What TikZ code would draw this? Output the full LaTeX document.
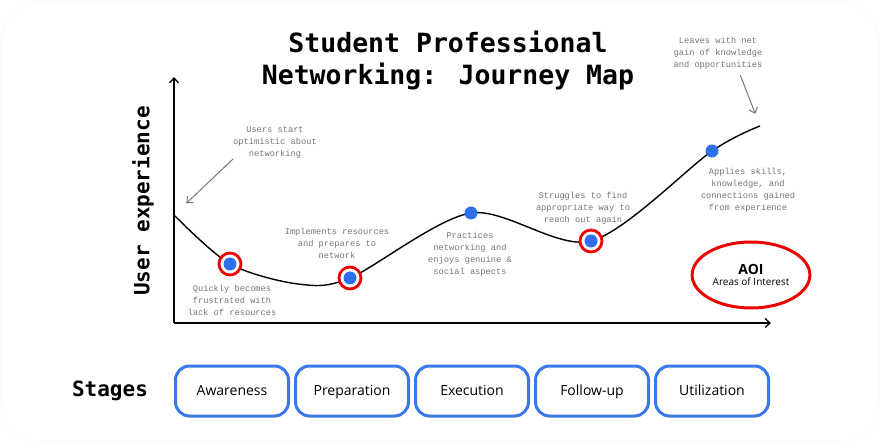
\documentclass[tikz,border=0pt]{standalone}
\usepackage{fontspec}
\setmainfont{Open Sans}
\newfontfamily\headfont{DejaVu Sans Mono}
\newfontfamily\notefont{Liberation Mono}
\usetikzlibrary{arrows.meta, shapes.geometric}
\definecolor{dotblue}{RGB}{46, 112, 235}
\definecolor{stageblue}{RGB}{58, 120, 232}
\definecolor{aoired}{RGB}{236, 0, 0}
\definecolor{notegray}{RGB}{118, 118, 118}

\begin{document}
\begin{tikzpicture}[
    x=1pt, y=-1pt,
    title/.style={font=\headfont\bfseries\fontsize{26.5}{32}\selectfont, align=center},
    axislabel/.style={font=\headfont\bfseries\fontsize{21}{24}\selectfont},
    note/.style={font=\notefont\fontsize{8.7}{12}\selectfont, text=notegray,
        align=center, inner sep=0pt},
    axis/.style={line width=1.3pt, -{Straight Barb[length=5pt, width=9pt]}},
    journey/.style={line width=1.4pt},
    dot/.style={circle, fill=dotblue, minimum size=13pt, inner sep=0pt},
    ring/.style={circle, draw=aoired, line width=2.8pt, fill=white,
        minimum size=22pt, inner sep=0pt},
    pointer/.style={draw=notegray, line width=1pt,
        -{Straight Barb[length=5pt, width=9pt]}},
    stage/.style={draw=stageblue, line width=3pt, rounded corners=14pt,
        minimum width=113pt, minimum height=50pt, inner sep=0pt,
        text height=11.5pt, text depth=3pt,
        font=\fontsize{14}{16}\selectfont}
]
    \useasboundingbox (0,0) rectangle (880,443);
    \draw[black!3, line width=0.6pt, rounded corners=40pt] (1,1) rectangle (879,442);

    \node[title] (title) at (448,60) {Student Professional\\Networking: Journey Map};

    \coordinate (origin) at (174,323);
    \coordinate (ytop) at (174,77);
    \coordinate (xend) at (771,323);
    \draw[axis] (origin) -- (ytop);
    \draw[axis] (origin) -- (xend);
    \node[axislabel, rotate=90] (ylabel) at (143,201) {User experience};

    \coordinate (start) at (174,215);
    \coordinate (p1) at (230,264);
    \coordinate (low) at (298,284);
    \coordinate (p2) at (350,278);
    \coordinate (p3) at (471,213);
    \coordinate (p4) at (591,241);
    \coordinate (p5) at (712,151);
    \coordinate (finish) at (760,126);
    \draw[journey] plot[smooth, tension=0.5] coordinates
        {(start) (p1) (low) (p2) (p3) (p4) (p5) (finish)};

    \node[ring] (r1) at (p1) {};
    \node[ring] (r2) at (p2) {};
    \node[ring] (r4) at (p4) {};
    \node[dot] (d1) at (p1) {};
    \node[dot] (d2) at (p2) {};
    \node[dot] (d3) at (p3) {};
    \node[dot] (d4) at (p4) {};
    \node[dot] (d5) at (p5) {};

    \node[note] (users) at (275,143) {Users start\\optimistic about\\networking};
    \node[note] (quickly) at (232,300) {Quickly becomes\\frustrated with\\lack of resources};
    \node[note] (implements) at (337,243) {Implements resources\\and prepares to\\network};
    \node[note] (practices) at (470,254) {Practices\\networking and\\enjoys genuine \&\\social aspects};
    \node[note] (struggles) at (583,208) {Struggles to find\\appropriate way to\\reach out again};
    \node[note] (leaves) at (718,53) {Leaves with net\\gain of knowledge\\and opportunities};
    \node[note] (applies) at (748,190) {Applies skills,\\knowledge, and\\connections gained\\from experience};

    \draw[pointer, shorten >=17pt] (users.south west) -- (start);
    \draw[pointer, shorten <=6pt, shorten >=13pt] ([xshift=20pt]leaves.south) -- (finish);

    \node[ellipse, draw=aoired, line width=3pt, minimum width=106pt,
        minimum height=66pt, align=center] (aoi) at (751,275)
        {{\fontsize{14}{15}\selectfont\bfseries AOI}\\[-1pt]{\fontsize{10}{12}\selectfont Areas of Interest}};

    \node[axislabel] (stages) at (110,391) {Stages};
    \node[stage] (awareness) at (232,391) {Awareness};
    \node[stage] (preparation) at (352,391) {Preparation};
    \node[stage] (execution) at (472,391) {Execution};
    \node[stage] (followup) at (592,391) {Follow-up};
    \node[stage] (utilization) at (712,391) {Utilization};
\end{tikzpicture}
\end{document}
